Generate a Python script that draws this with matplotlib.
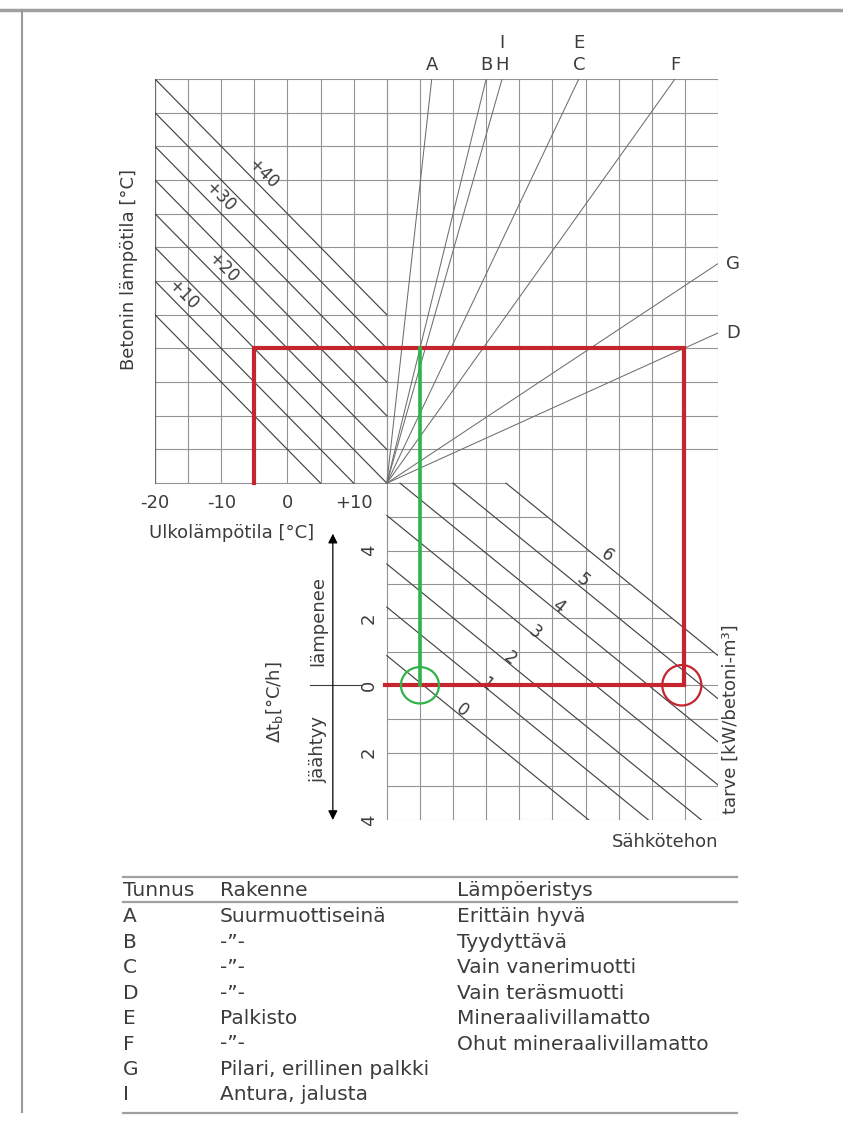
import matplotlib.pyplot as plt
from matplotlib.patches import Ellipse
from matplotlib.lines import Line2D

plt.rcParams['font.family'] = ['DejaVu Sans']

# --- nomogram data -------------------------------------------------------
# outdoor temperature axis (°C)
outdoor_ticks = [-20, -10, 0, 10]
outdoor_labels = ["-20", "-10", "0", "+10"]

# concrete temperature lines (°C); every second one is labelled
concrete_temps = [5, 10, 15, 20, 25, 30, 35, 40]
concrete_labelled = [10, 20, 30, 40]

# structure lines: power-axis cells per 5 °C of temperature difference
structure_codes = ["A", "B", "H", "C", "F", "G", "D"]
structure_slope = [0.113, 0.25, 0.29, 0.483, 0.725, 1.534, 2.242]
stacked_codes = {"H": "I", "C": "E"}

# temperature change rate axis (°C/h)
rate_ticks = [4, 2, 0, -2, -4]
rate_labels = ["4", "2", "0", "2", "4"]

# power lines (kW/betoni-m3): crossing of the power axis at rate 0
power_values = [0, 1, 2, 3, 4, 5, 6]
power_x0 = [1.1, 2.9, 4.5, 6.3, 7.9, 9.5, 11.1]
power_rate_slope = 0.8      # rate cells per power-axis cell

# worked example
ex_outdoor = -5
ex_concrete = 15
ex_rate = 0
ex_green = "B"
ex_red = "D"

# explanation table
table_codes = ["A", "B", "C", "D", "E", "F", "G", "I"]
table_structure = ["Suurmuottiseinä", "-\u201d-", "-\u201d-", "-\u201d-",
                   "Palkisto", "-\u201d-", "Pilari, erillinen palkki",
                   "Antura, jalusta"]
table_insulation = ["Erittäin hyvä", "Tyydyttävä", "Vain vanerimuotti",
                    "Vain teräsmuotti", "Mineraalivillamatto",
                    "Ohut mineraalivillamatto", "", ""]


# --- cell coordinates ----------------------------------------------------
def tx(t):              # outdoor temperature -> x cell
    return (t + 20) / 5


def ty(d):              # temperature difference -> y cell
    return d / 5


def rx(p):              # power-axis cell -> x cell
    return 7 + p


def ry(r):              # rate -> y cell
    return r - 6


W, H = 843, 1127
fig = plt.figure(figsize=(W / 100, H / 100), dpi=100)
page = fig.add_axes([0, 0, 1, 1])
page.set_xlim(0, W)
page.set_ylim(H, 0)
page.axis("off")

ax = fig.add_axes([155 / W, (H - 820) / H, 563 / W, 741 / H])
ax.set_xlim(0, 17)
ax.set_ylim(-10, 12)
ax.axis("off")

GRID = dict(color="#939393", lw=0.8, solid_capstyle="butt", zorder=1)
DIAG = dict(color="#454545", lw=0.85, zorder=2)
FAN = dict(color="#6e6e6e", lw=0.75, zorder=2)
TXT = dict(color="#3c3c3c", fontsize=13)
SMALL = dict(color="#3c3c3c", fontsize=12)

# grid of the upper part
for i in range(0, 8):
    ax.plot([i, i], [0, 12], **GRID)
for i in range(7, 18):
    ax.plot([i, i], [-10, 12], **GRID)
for j in range(1, 13):
    ax.plot([0, 17], [j, j], **GRID)
ax.plot([0, 7], [0, 0], **GRID)
ax.plot([0, 0], [0, 12], color="#6a6a6a", lw=1.6, zorder=1)

# grid of the lower part, cut by the outermost power line
m = power_rate_slope
for r in range(6, -5, -1):
    x_end = min(10, power_x0[-1] - r / m)
    ax.plot([rx(0), rx(x_end)], [ry(r), ry(r)], **GRID)

# concrete temperature lines
for T in concrete_temps:
    c = ty(T - outdoor_ticks[0])
    xe = min(c, 7)
    ax.plot([0, xe], [c, c - xe], **DIAG)

for T, xl in zip(concrete_labelled, [0.85, 2.05, 1.96, 3.26]):
    c = ty(T - outdoor_ticks[0])
    ax.text(xl, c - xl + 0.45, "+%d" % T, rotation=-45, ha="center",
            va="center", **SMALL)

# structure lines from the common pole
for code, k in zip(structure_codes, structure_slope):
    if 7 + 12 * k <= 17:
        xe, ye = 7 + 12 * k, 12
        ax.text(xe, ye + 0.42, code, ha="center", va="center", **TXT)
        if code in stacked_codes:
            ax.text(xe, ye + 1.07, stacked_codes[code], ha="center",
                    va="center", **TXT)
    else:
        xe, ye = 17, 10 / k
        ax.text(xe + 0.45, ye, code, ha="center", va="center", **TXT)
    ax.plot([7, xe], [0, ye], **FAN)

# power lines in the lower part
for p, x0 in zip(power_values, power_x0):
    r_start = min(6, m * x0)
    r_end = max(-4, -m * (10 - x0))
    ax.plot([rx(x0 - r_start / m), rx(x0 - r_end / m)],
            [ry(r_start), ry(r_end)], **DIAG)

for i, p in enumerate(power_values):
    ax.text(9.27 + 0.73 * i, -6.73 + 0.767 * i, str(p), rotation=-38,
            ha="center", va="center", **SMALL)

# outdoor temperature axis
for t, lab in zip(outdoor_ticks, outdoor_labels):
    ax.text(tx(t), -0.58, lab, ha="center", va="center", **TXT)
ax.text(2.32, -1.48, "Ulkolämpötila [°C]", ha="center", va="center", **TXT)
ax.text(-0.79, 6.33, "Betonin lämpötila [°C]", rotation=90, ha="center",
        va="center", **TXT)

# rate axis
for r, lab in zip(rate_ticks, rate_labels):
    ax.text(6.45, ry(r), lab, rotation=90, ha="center", va="center", **TXT)
ax.plot([4.68, 6.22], [ry(0), ry(0)], color="#3c3c3c", lw=0.8)
ax.annotate("", xy=(5.37, ry(4.5)), xytext=(5.37, ry(-4.0)),
            arrowprops=dict(arrowstyle="<|-|>", color="black", lw=0.9,
                            mutation_scale=14, shrinkA=0, shrinkB=0))
ax.text(4.92, ry(1.9), "lämpenee", rotation=90, ha="center", va="center",
        **TXT)
ax.text(4.92, ry(-1.9), "jäähtyy", rotation=90, ha="center", va="center",
        **TXT)
ax.text(3.6, ry(-0.5), r"$\Delta$t$_\mathregular{b}$[°C/h]", rotation=90,
        ha="center", va="center", **TXT)

ax.text(17.39, -7.0, "tarve [kW/betoni-m³]", rotation=90, ha="center",
        va="center", **TXT)
ax.text(17.0, -10.65, "Sähkötehon", ha="right", va="center", **TXT)

# worked example
slopes = dict(zip(structure_codes, structure_slope))
y_ex = ty(ex_concrete - ex_outdoor)
x_red = 7 + slopes[ex_red] * y_ex
x_green = 7 + slopes[ex_green] * y_ex
RED, GREEN = "#c4252f", "#2fb34a"
ax.plot([rx(0) - 0.06, x_red, x_red, tx(ex_outdoor), tx(ex_outdoor)],
        [ry(ex_rate), ry(ex_rate), y_ex, y_ex, 0],
        color=RED, lw=3.0, solid_joinstyle="miter", zorder=5)
ax.plot([x_green, x_green], [y_ex, ry(ex_rate)], color=GREEN, lw=2.6,
        zorder=6)
ax.add_patch(Ellipse((x_green, ry(ex_rate)), 1.15, 1.08, fill=False,
                     ec=GREEN, lw=1.6, zorder=7))
ax.add_patch(Ellipse((x_red - 0.06, ry(ex_rate)), 1.18, 1.2, fill=False,
                     ec=RED, lw=1.6, zorder=7))

# explanation table
col_x = [123, 220, 457]
rule = dict(color="#a0a0a0", lw=1.6)
page.add_line(Line2D([123, 737], [877, 877], **rule))
page.add_line(Line2D([123, 737], [902, 902], **rule))
page.add_line(Line2D([123, 737], [1113, 1113], **rule))
for x, head in zip(col_x, ["Tunnus", "Rakenne", "Lämpöeristys"]):
    page.text(x, 890, head, ha="left", va="center", color="#3c3c3c",
              fontsize=14.5)
for i, row in enumerate(zip(table_codes, table_structure, table_insulation)):
    for x, cell in zip(col_x, row):
        page.text(x, 917 + 25.4 * i, cell, ha="left", va="center",
                  color="#3c3c3c", fontsize=14.5)

# page frame
page.add_line(Line2D([0, W], [10, 10], color="#a0a0a0", lw=2.5))
page.add_line(Line2D([22, 22], [10, 1112], color="#9a9a9a", lw=1.5))

fig.savefig("out.png", dpi=100)
